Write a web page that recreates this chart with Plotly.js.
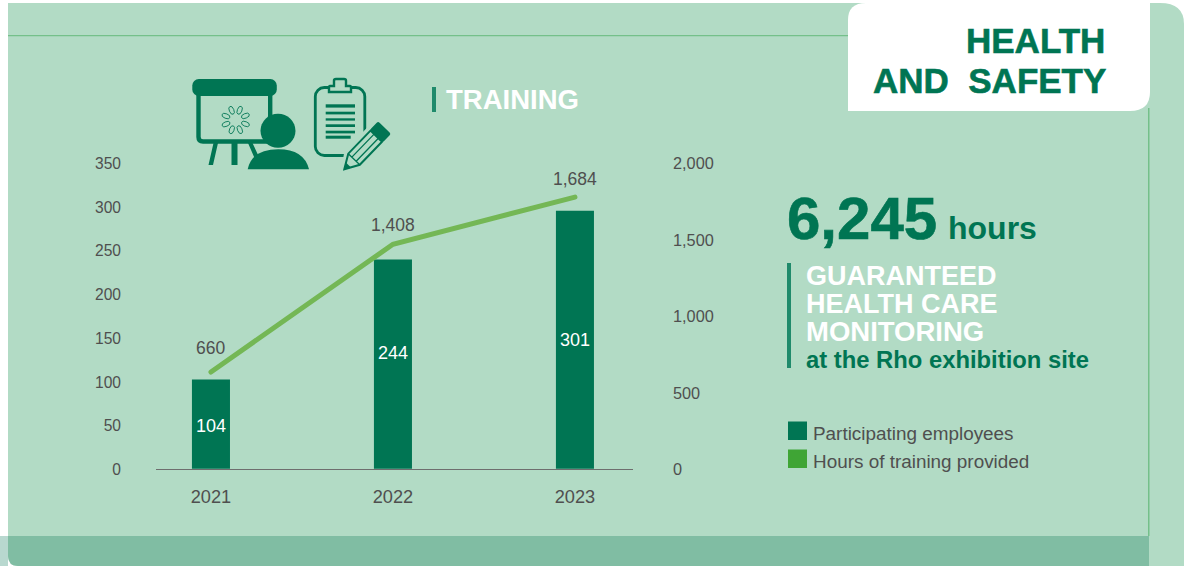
<!DOCTYPE html>
<html><head><meta charset="utf-8">
<script src="https://cdn.plot.ly/plotly-3.0.1.min.js"></script>
<style>html,body{margin:0;padding:0;background:#fff}#c{width:1184px;height:566px}
.js-line{stroke-linecap:round}</style></head><body><div id="c"></div>
<script>
const years = ['2021','2022','2023'];
const employees = [104,244,301];
const hours = [660,1408,1684];
const leftTicks = [0,50,100,150,200,250,300,350];
const rightTicks = [0,500,1000,1500,2000];
const legendLabels = ['Participating employees','Hours of training provided'];

const W=1184,H=566;
const px=x=>x/W, py=y=>1-y/H;
const DARK='#007553',LINE='#74b755',BG='#b2dbc5',GREY='#4f4f4f',BAR='#1f8a6b';
const FONT='"Liberation Sans",Arial,sans-serif';
function path(cmds){ // [cmd, x,y, x,y...] in pixels -> paper coordinates
  return cmds.map(c=>{let o=c[0];for(let i=1;i<c.length;i+=2){o+=(i>1?' ':'')+px(c[i]).toFixed(5)+','+py(c[i+1]).toFixed(5);}return o;}).join(' ');
}
function rect(x0,y0,x1,y1,fill){return {type:'rect',xref:'paper',yref:'paper',x0:px(x0),x1:px(x1),y0:py(y0),y1:py(y1),fillcolor:fill,line:{width:0},layer:'below'};}
function shp(cmds,fill){return {type:'path',xref:'paper',yref:'paper',path:path(cmds),fillcolor:fill,line:{width:0},layer:'below'};}
function txt(x,y,text,size,color,anchor,bold){return {xref:'paper',yref:'paper',x:px(x),y:py(y),text:bold?'<b>'+text+'</b>':text,showarrow:false,xanchor:anchor||'left',yanchor:'middle',font:{family:FONT,size:size,color:color},borderpad:0,borderwidth:0};}

const shapes=[
  shp([['M',8,3],['L',1160,3],['Q',1184,3,1184,24],['L',1184,566],['L',20,566],['Q',8,566,8,554],['Z']],BG),
  rect(0,536,8,566,'#b8d8cf'),
  shp([['M',8,536],['L',1149,536],['L',1149,566],['L',18,566],['Q',8,566,8,556],['Z']],'#80bda3'),
  rect(8,35,850,36.3,'#74c08a'),
  rect(1148,108,1149.5,536,'#74c08a'),
  shp([['M',866,3],['L',1150,3],['L',1150,92],['Q',1150,111,1130,111],['L',848,111],['L',848,20],['Q',848,3,866,3],['Z']],'#ffffff'),
  rect(432,87,436,112,BAR),
  rect(787,263,791,368,BAR),
  rect(788,421.5,807,440,DARK),
  rect(788,449.5,807,468,'#3fa535')
];

// Icons: presentation board + person, clipboard + pencil
let petals='';
for(let a=0;a<360;a+=45){petals+=`<ellipse cx="0" cy="-10.5" rx="2.3" ry="4.2" transform="rotate(${a+22})" fill="none" stroke="${DARK}" stroke-width="0.8"/>`;}
const bars=[[103,113,525],[125,133,525],[145,152,525],[163,171,525],[182,190,525],[197,206,512]]
  .map(b=>`<rect x="${(437/3+180-190).toFixed(1)}" y="${(b[0]/3+70-75).toFixed(1)}" width="${((b[2]-437)/3).toFixed(1)}" height="${((b[1]-b[0])/3).toFixed(1)}" fill="${DARK}"/>`).join('');
const svg=`<svg xmlns="http://www.w3.org/2000/svg" width="210" height="100" viewBox="0 0 210 100">
<rect x="2.3" y="4" width="84.5" height="17" rx="6.5" fill="${DARK}"/>
<path d="M8.5 20 V62 Q8.5 66.5 13 66.5 H77 Q80.2 66.5 80.2 62 V20" fill="none" stroke="${DARK}" stroke-width="4.4"/>
<path d="M23.5 68 L18.5 90 H23 L28 68Z M41.5 68 H47.5 V90 H41.5Z M58 68 L64.5 83 L68.5 81 L62.5 68Z" fill="${DARK}"/>
<g transform="translate(45.7 45)">${petals}</g>
<ellipse cx="88" cy="55.7" rx="17.5" ry="17" fill="${DARK}"/>
<path d="M57.7 94.3 Q62 74.3 88.3 74.3 Q114 74.3 119 94.3Z" fill="${DARK}"/>
<rect x="125.3" y="12.5" width="49.5" height="68" rx="9" fill="none" stroke="${DARK}" stroke-width="2.8"/>
<path d="M140 11 H144 V5.5 Q144 4 146 4 H154 Q156 4 156 5.5 V11 H160 Q161 11 161 13 V17 H139 V13 Q139 11 140 11Z" fill="${BG}" stroke="${DARK}" stroke-width="2.4"/>
${bars}
<g transform="translate(154.3 94.3) rotate(-46)">
<path d="M0 0 L14 -9.5 H62 V9.5 H14Z" fill="${BG}" stroke="${BG}" stroke-width="6"/>
<path d="M0 0 L14 -8 H46 V8 H14Z" fill="${BG}" stroke="${DARK}" stroke-width="2"/>
<path d="M14 -3 H46 M14 3 H46 M14 -8 V8" fill="none" stroke="${DARK}" stroke-width="1.3"/>
<path d="M0 0 L6 -4 V4Z" fill="${DARK}"/>
<rect x="46" y="-9" width="12" height="18" rx="2" fill="${DARK}"/>
</g></svg>`;
const images=[{source:'data:image/svg+xml;base64,'+btoa(svg),xref:'paper',yref:'paper',x:px(190),y:py(75),sizex:210/W,sizey:100/H,sizing:'stretch',xanchor:'left',yanchor:'top',layer:'above'}];

const barLabelShift=[-2,11,0];
const lineLabelShift=[24,19,18];
const annotations=[
  txt(1105,40,'HEALTH',35,DARK,'right',true),
  txt(1106,80,'AND&nbsp;&nbsp;SAFETY',35,DARK,'right',true),
  txt(446,99.5,'TRAINING',27.5,'#ffffff','left',true),
  txt(787,218,'6,245',60,DARK,'left',true),
  txt(948,228,'hours',32,DARK,'left',true),
  txt(806,275.5,'GUARANTEED',27,'#ffffff','left',true),
  txt(806,303.5,'HEALTH CARE',27,'#ffffff','left',true),
  txt(806,331,'MONITORING',27.5,'#ffffff','left',true),
  txt(806,359,'at the Rho exhibition site',23.8,DARK,'left',true),
  txt(813,433.5,legendLabels[0],18.9,GREY),
  txt(813,461.5,legendLabels[1],18.9,GREY)
];
years.forEach((yr,i)=>{
  annotations.push({xref:'x',yref:'y3',x:i,y:employees[i]/2,yshift:barLabelShift[i],text:String(employees[i]),showarrow:false,font:{family:FONT,size:18,color:'#ffffff'},yanchor:'middle'});
  annotations.push({xref:'x',yref:'y4',x:i,y:hours[i],yshift:lineLabelShift[i],text:hours[i].toLocaleString('en-US'),showarrow:false,font:{family:FONT,size:17.5,color:GREY},yanchor:'middle'});
});

const domX=[px(156),px(633)],domTick=[py(469.6),py(163.6)];
const hiddenAxis={overlaying:'y',anchor:'x',showgrid:false,zeroline:false,showline:false,showticklabels:false,ticks:''};
const traces=[
  {type:'bar',x:years,y:employees,name:legendLabels[0],yaxis:'y3',width:0.209,marker:{color:DARK},showlegend:false,hoverinfo:'x+y'},
  {type:'scatter',mode:'lines',x:years,y:hours,name:legendLabels[1],yaxis:'y4',line:{color:LINE,width:5},showlegend:false,hoverinfo:'x+y'},
  // empty traces so that the two printed scales are drawn
  {type:'scatter',mode:'lines',x:[years[0]],y:[null],yaxis:'y',showlegend:false,hoverinfo:'skip'},
  {type:'scatter',mode:'lines',x:[years[0]],y:[null],yaxis:'y2',showlegend:false,hoverinfo:'skip'}
];
// The reference's marks do not sit exactly on its printed scales, so the bars and
// the line use their own hidden overlay axes; the visible axes carry only the ticks.
const layout={
  width:W,height:H,margin:{l:0,r:0,t:0,b:0},paper_bgcolor:'#ffffff',plot_bgcolor:'rgba(0,0,0,0)',
  showlegend:false,shapes,images,annotations,
  xaxis:{domain:domX,type:'category',categoryorder:'array',categoryarray:years,range:[-0.302,2.319],anchor:'free',position:py(469),showgrid:false,zeroline:false,showline:true,linecolor:'#6e6e6e',linewidth:1,ticks:'',ticklabelstandoff:11,tickfont:{family:FONT,size:18.2,color:GREY}},
  yaxis:{domain:domTick,range:[0,350],tickmode:'array',tickvals:leftTicks,ticktext:leftTicks.map(String),anchor:'free',position:px(121),side:'left',showgrid:false,zeroline:false,showline:false,ticks:'',tickfont:{family:FONT,size:15.6,color:GREY}},
  yaxis2:{domain:domTick,range:[0,2000],tickmode:'array',tickvals:rightTicks,ticktext:rightTicks.map(v=>v.toLocaleString('en-US')),overlaying:'y',anchor:'free',position:px(672),side:'right',showgrid:false,zeroline:false,showline:false,ticks:'',tickfont:{family:FONT,size:16.3,color:GREY}},
  yaxis3:Object.assign({range:[-1,356]},hiddenAxis),
  yaxis4:Object.assign({range:[89,1880]},hiddenAxis)
};
Plotly.newPlot('c',traces,layout,{displayModeBar:false,responsive:false}).then(gd=>{
  gd.querySelectorAll('.annotation-text-g text, .annotation text').forEach(t=>{
    if(/HEALTH$|SAFETY|6,245/.test(t.textContent)){t.style.stroke=DARK;t.style.strokeWidth='0.6px';}
  });
});
</script></body></html>
